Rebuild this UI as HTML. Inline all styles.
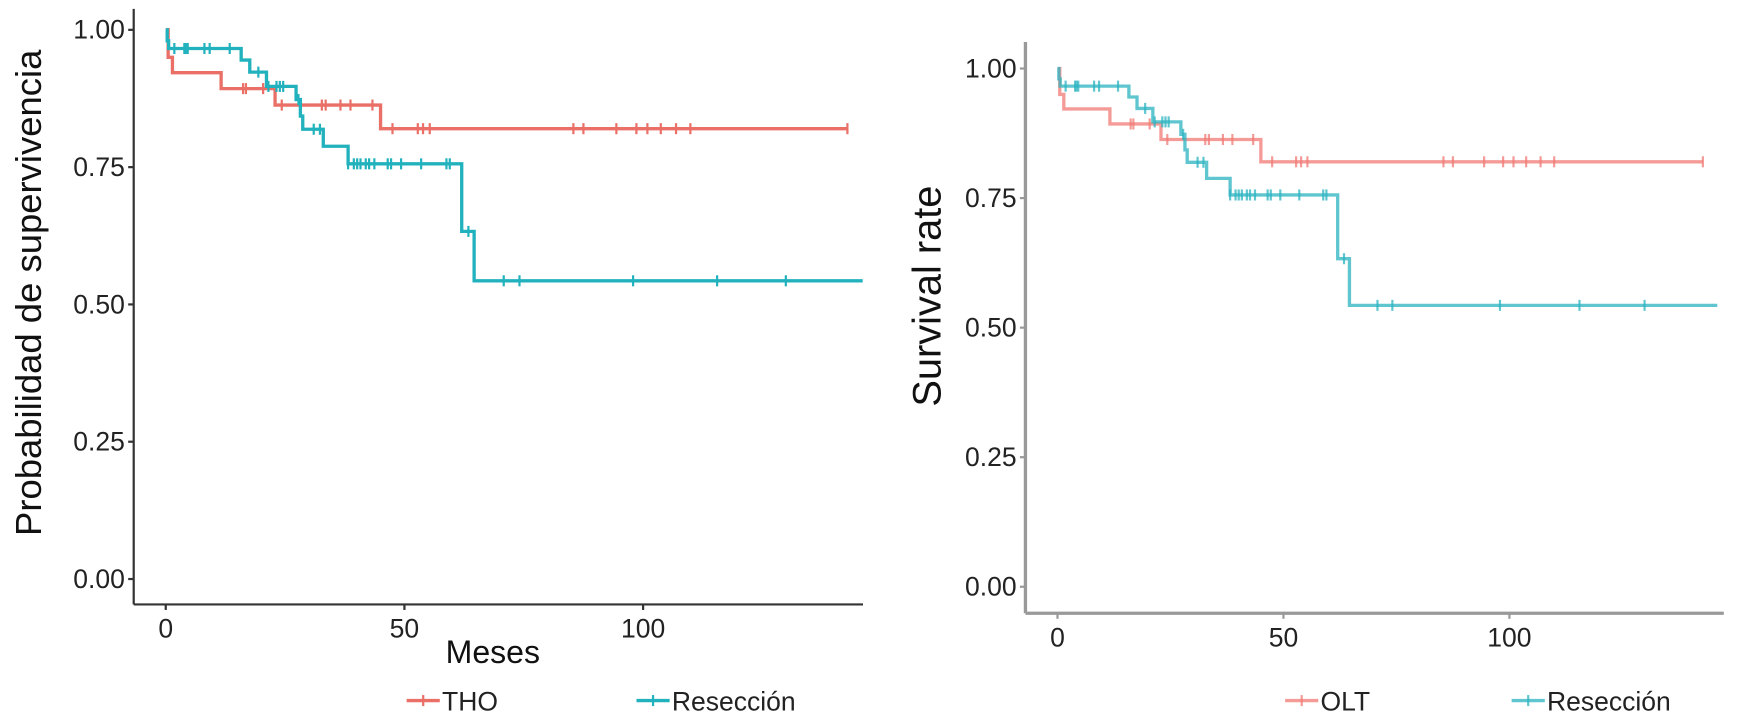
<!DOCTYPE html>
<html><head><meta charset="utf-8">
<style>
body{margin:0;background:#fff;}
svg{display:block;font-family:"Liberation Sans",Arial,sans-serif;}
</style></head>
<body>
<svg width="1739" height="720"><g id="c" transform="scale(1.105)"></g></svg>
<script>
// Kaplan-Meier data (time in months, survival probability)
const redStepTimes = [0, 0.5, 1.4, 11.6, 22.9, 45];
const redStepSurv  = [1.0, 0.95, 0.922, 0.893, 0.863, 0.82];
const redCensorT   = [16.2,16.8,20.4,24.3,32.7,33.5,36.6,38.7,43.3,47.5,52.8,53.9,55.3,85.4,87.5,94.4,98.6,100.9,103.7,106.9,109.9,142.8];
const redEnd = 142.8;
const cyanStepTimes = [0, 0.3, 0.6, 15.8, 17.6, 21.1, 27.3, 28.2, 28.7, 33, 38.2, 62, 64.6];
const cyanStepSurv  = [1.0, 0.98, 0.966, 0.945, 0.923, 0.897, 0.873, 0.843, 0.819, 0.788, 0.756, 0.633, 0.543];
const cyanCensorT   = [1.8,3.9,4.2,4.6,8.1,9.2,13.4,19.4,21.5,23.2,23.9,24.6,27.8,31,32.3,38.2,39.4,40.1,40.8,41.9,42.6,43.7,46.5,47.2,49.3,53.5,58.8,59.5,63.4,70.8,74.1,97.9,115.5,129.9];
const cyanEnd = 146;
const xTicks = [0, 50, 100];
const yTicks = [0, 0.25, 0.5, 0.75, 1.0];
const yTickLabels = ["0.00","0.25","0.50","0.75","1.00"];

const NS="http://www.w3.org/2000/svg";
const svg=document.getElementById('c');
function mk(tag,attrs,parent){const e=document.createElementNS(NS,tag);for(const k in attrs)e.setAttribute(k,attrs[k]);(parent||svg).appendChild(e);return e;}
function survAt(times,surv,t){let s=surv[0];for(let i=0;i<times.length;i++){if(times[i]<=t)s=surv[i];}return s;}

function panel(cfg){
  const g=mk('g',{});
  
  
  const X=t=>cfg.x0+cfg.kx*t, Y=s=>cfg.y0-cfg.ky*s;
  const ya=mk('line',{x1:cfg.ax,y1:cfg.top,x2:cfg.ax,y2:cfg.ay,stroke:cfg.axc,'stroke-width':cfg.aw},g);
  
  const xa=mk('line',{x1:cfg.ax,y1:cfg.ay,x2:cfg.right,y2:cfg.ay,stroke:cfg.axc,'stroke-width':cfg.aw},g);
  
  yTicks.forEach((v,i)=>{
    mk('line',{x1:cfg.ax-5,y1:Y(v),x2:cfg.ax,y2:Y(v),stroke:cfg.axc,'stroke-width':2},g);
    const t=mk('text',{x:cfg.ax-8,y:Y(v)+8,'text-anchor':'end','font-size':cfg.fs,fill:'#222'},g);
    t.textContent=yTickLabels[i];
    
  });
  xTicks.forEach(v=>{
    mk('line',{x1:X(v),y1:cfg.ay,x2:X(v),y2:cfg.ay+5,stroke:cfg.axc,'stroke-width':2},g);
    const t=mk('text',{x:X(v),y:cfg.ay+30,'text-anchor':'middle','font-size':cfg.fs,fill:'#222'},g);
    t.textContent=String(v);
    
  });
  function curve(times,surv,cens,end,col,nm){
    let d='M'+X(times[0])+','+Y(surv[0]);
    for(let i=1;i<times.length;i++){d+=' H'+X(times[i])+' V'+Y(surv[i]);}
    d+=' H'+X(end);
    const p=mk('path',{d:d,fill:'none',stroke:col,'stroke-width':3,'stroke-opacity':cfg.op},g);
    
    cens.forEach(t=>{
      const s=survAt(times,surv,t);
      const c=mk('line',{x1:X(t),y1:Y(s)-5,x2:X(t),y2:Y(s)+5,stroke:col,'stroke-width':2,'stroke-opacity':cfg.op},g);
      
    });
  }
  curve(redStepTimes,redStepSurv,redCensorT,redEnd,cfg.red,'group1');
  curve(cyanStepTimes,cyanStepSurv,cyanCensorT,cyanEnd,cfg.cyan,'reseccion');
  const yt=mk('text',{x:0,y:0,transform:`translate(${cfg.ytx},${cfg.yty}) rotate(-90)`,'text-anchor':'middle','font-size':cfg.tfs,fill:'#111'},g);
  yt.textContent=cfg.ytitle;
  if(cfg.xtitle){const xt=mk('text',{x:cfg.xtx,y:cfg.xty,'text-anchor':'middle','font-size':cfg.xfs,fill:'#111'},g);
    xt.textContent=cfg.xtitle;}
  cfg.leg.forEach(l=>{
    const lg=mk('g',{},g);
    
    mk('line',{x1:l.x,y1:634,x2:l.x+30,y2:634,stroke:l.col,'stroke-width':3,'stroke-opacity':cfg.op},lg);
    mk('line',{x1:l.x+15,y1:629,x2:l.x+15,y2:639,stroke:l.col,'stroke-width':2,'stroke-opacity':cfg.op},lg);
    const t=mk('text',{x:l.x+32,y:643,'font-size':24,fill:'#222'},lg);t.textContent=l.label;
  });
}
panel({name:'left-panel',x0:150,kx:4.32,y0:524,ky:497,ax:121,ay:547,top:8,right:781,axc:'#333',aw:2,fs:24,tfs:33,xfs:29,op:1,
  red:'#EA6F66',cyan:'#22B2BD',ytitle:'Probabilidad de supervivencia',ytx:37,yty:265,xtitle:'Meses',xtx:446,xty:600,
  leg:[{x:368,col:'#EA6F66',label:'THO'},{x:576,col:'#22B2BD',label:'Resección'}]});
panel({name:'right-panel',x0:957,kx:4.09,y0:531,ky:469,ax:928,ay:555,top:38,right:1560,axc:'#999',aw:3,fs:24,tfs:36,xfs:29,op:0.75,
  red:'#F07A74',cyan:'#2AB3C0',ytitle:'Survival rate',ytx:851,yty:268,
  leg:[{x:1163,col:'#F07A74',label:'OLT'},{x:1368,col:'#2AB3C0',label:'Resección'}]});
</script>
</body></html>
